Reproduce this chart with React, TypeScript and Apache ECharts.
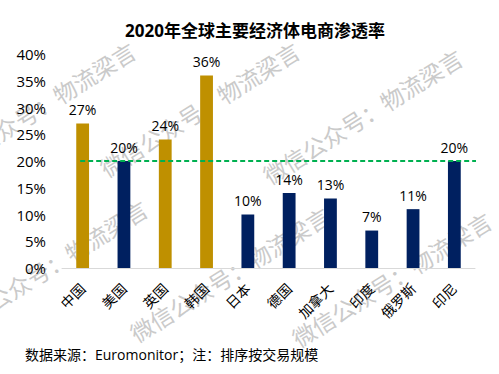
import React, { useEffect, useRef } from "react";
import * as echarts from "echarts";

const titleText = "2020年全球主要经济体电商渗透率";
const sourceText = "数据来源：Euromonitor；注：排序按交易规模";
const watermarkText = "微信公众号：物流梁言";

const categories = ["中国", "美国", "英国", "韩国", "日本", "德国", "加拿大", "印度", "俄罗斯", "印尼"];
const penetration = [27, 20, 24, 36, 10, 14, 13, 7, 11, 20];
const highlighted = [true, false, true, true, false, false, false, false, false, false];
const yTicks = [0, 5, 10, 15, 20, 25, 30, 35, 40];
const benchmarkValue = 20;
const benchmarkSpan = [-0.06, 9.62];

const GOLD = "#BF9000";
const NAVY = "#002060";
const FONT = "'Segoe UI', 'Open Sans', 'Noto Sans CJK SC', sans-serif";

const watermarkSpots = [
  [36, 110], [200, 110], [363, 117],
  [48, 268], [230, 275], [392, 280],
];

export default function App() {
  const ref = useRef<HTMLDivElement>(null);
  useEffect(() => {
    if (!ref.current) return;
    const chart = echarts.init(ref.current, null, { renderer: "svg" });
    const marks: any[] = watermarkSpots.map(([x, y]) => ({
      type: "text",
      x,
      y,
      rotation: (32 * Math.PI) / 180,
      z: -10,
      silent: true,
      style: {
        text: watermarkText,
        fill: "#cacaca",
        font: `23px ${FONT}`,
        align: "center",
        verticalAlign: "middle",
      },
    }));
    marks.push({
      type: "text",
      x: 255,
      y: 30,
      z: 10,
      style: {
        text: titleText,
        fill: "#000",
        font: `bold 17px ${FONT}`,
        align: "center",
        verticalAlign: "middle",
      },
    });
    marks.push({
      type: "text",
      x: 25,
      y: 354,
      z: 10,
      style: {
        text: sourceText,
        fill: "#000",
        font: `14px ${FONT}`,
        align: "left",
        verticalAlign: "middle",
      },
    });
    chart.setOption({
      animation: false,
      backgroundColor: "#fff",
      textStyle: { fontFamily: FONT },
      grid: { left: 62, right: 24, top: 54, bottom: 106, containLabel: false },
      xAxis: [
        {
          type: "category",
          data: categories,
          axisLine: { lineStyle: { color: "#d9d9d9", width: 1 } },
          axisTick: { show: false },
          axisLabel: { rotate: 45, color: "#000", fontSize: 14, margin: 18, interval: 0, fontFamily: FONT },
        },
        { type: "value", show: false, min: -0.5, max: 9.5 },
      ],
      yAxis: {
        type: "value",
        min: yTicks[0],
        max: yTicks[yTicks.length - 1],
        interval: 5,
        axisLine: { show: false },
        axisTick: { show: false },
        splitLine: { show: false },
        axisLabel: { formatter: "{value}%", color: "#000", fontSize: 15, margin: 16, fontFamily: FONT },
      },
      graphic: marks,
      series: [
        {
          type: "bar",
          barWidth: "31%",
          data: penetration.map((v, i) => ({ value: v, itemStyle: { color: highlighted[i] ? GOLD : NAVY } })),
          label: {
            show: true,
            position: "top",
            distance: 7,
            formatter: "{c}%",
            color: "#000",
            fontSize: 14,
            fontFamily: FONT,
          },
        },
        {
          type: "line",
          xAxisIndex: 1,
          data: benchmarkSpan.map((x) => [x, benchmarkValue]),
          symbol: "none",
          clip: false,
          silent: true,
          z: 5,
          lineStyle: { color: "#00B050", width: 2, type: [5, 3] },
        },
      ],
    });
    return () => chart.dispose();
  }, []);
  return <div ref={ref} style={{ position: "fixed", left: 0, top: 0, width: 499, height: 374 }} />;
}
